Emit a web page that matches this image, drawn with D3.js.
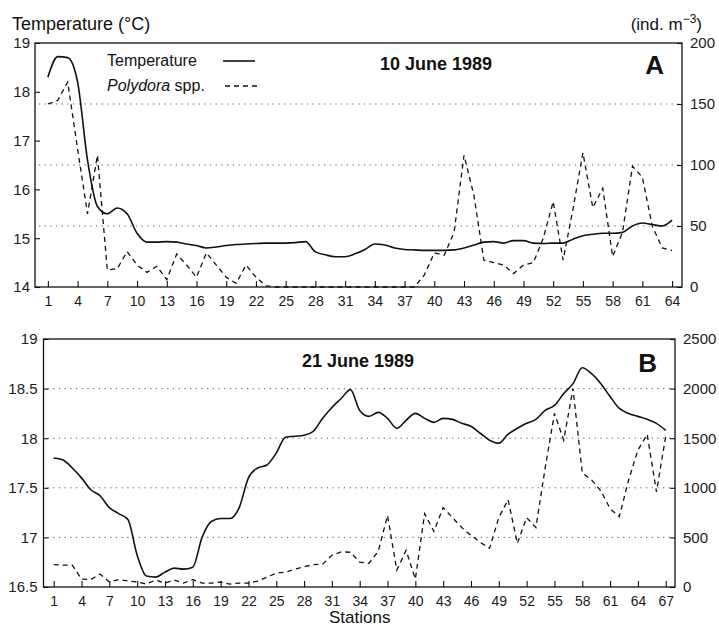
<!DOCTYPE html>
<html>
<head>
<meta charset="utf-8">
<script src="https://cdn.jsdelivr.net/npm/d3@7"></script>
<style>
  html, body { margin: 0; padding: 0; background: #fff; }
  svg { display: block; font-family: "Liberation Sans", Arial, sans-serif; }
</style>
</head>
<body>
<svg id="chart" width="719" height="626"></svg>
<script>
// ---------- DATA ----------
const stationsA = d3.range(1, 65);
const tempA = [18.3,18.72,18.7,18.2,16.6,15.65,15.5,15.62,15.5,15.1,14.92,14.92,14.93,14.92,14.88,14.85,14.8,14.82,14.85,14.87,14.88,14.89,14.9,14.9,14.9,14.91,14.93,14.72,14.66,14.62,14.62,14.68,14.77,14.88,14.86,14.8,14.77,14.76,14.75,14.75,14.75,14.76,14.8,14.86,14.92,14.93,14.9,14.95,14.95,14.9,14.89,14.9,14.9,14.98,15.05,15.08,15.1,15.1,15.12,15.25,15.31,15.28,15.25,15.37];
const polyA = [150,153,168,113,60,108,14,15,29,18,12,17,6,27,18,8,28,18,8,3,18,8,1,0,0,0,0,0,0,0,0,0,0,0,0,0,0,0,10,28,26,45,108,75,22,20,18,11,18,20,40,70,22,64,110,65,81,25,45,99,90,50,32,30];

const stationsB = d3.range(1, 68);
const tempB = [17.8,17.78,17.7,17.6,17.48,17.42,17.3,17.24,17.18,16.82,16.61,16.6,16.65,16.69,16.68,16.7,17.0,17.16,17.19,17.19,17.3,17.6,17.7,17.73,17.85,18.01,18.02,18.03,18.07,18.2,18.31,18.4,18.49,18.28,18.22,18.26,18.2,18.1,18.18,18.25,18.2,18.16,18.2,18.19,18.15,18.12,18.05,17.98,17.95,18.04,18.1,18.15,18.19,18.28,18.33,18.45,18.55,18.71,18.65,18.55,18.42,18.3,18.25,18.22,18.19,18.15,18.08];
const polyB = [225,220,220,80,75,130,50,75,60,50,30,70,40,70,40,75,40,40,50,30,40,40,60,100,140,150,180,205,225,230,320,355,350,250,240,360,720,170,370,80,740,560,800,700,600,520,450,390,700,880,440,700,600,1200,1750,1480,2000,1150,1080,970,790,709,1080,1380,1540,960,1520];

const xLabelsA = d3.range(1, 65, 3);
const xLabelsB = d3.range(1, 68, 3);
const leftTicksA = [14, 15, 16, 17, 18, 19];
const rightTicksA = [0, 50, 100, 150, 200];
const gridA = [50, 100, 150];
const leftTicksB = [16.5, 17, 17.5, 18, 18.5, 19];
const rightTicksB = [0, 500, 1000, 1500, 2000, 2500];
const gridB = [500, 1000, 1500, 2000];

// ---------- DRAW ----------
const svg = d3.select("#chart");

function panel(cfg) {
  const g = svg.append("g");
  const x = d3.scaleLinear().domain(cfg.xDom).range([cfg.left, cfg.right]);
  const yL = d3.scaleLinear().domain(cfg.yLDom).range([cfg.bottom, cfg.top]);
  const yR = d3.scaleLinear().domain(cfg.yRDom).range([cfg.bottom, cfg.top]);

  // dotted grid lines
  g.selectAll("line.grid").data(cfg.grid).join("line")
    .attr("class", "grid")
    .attr("x1", cfg.left + 4).attr("x2", cfg.right)
    .attr("y1", d => yR(d)).attr("y2", d => yR(d))
    .attr("stroke", "#333").attr("stroke-width", 1)
    .attr("stroke-dasharray", "1.2,4.5").attr("opacity", 0.8);

  const fmt = cfg.fmtL;
  // bottom axis: minor ticks each station
  const xb = g.append("g").attr("transform", `translate(0,${cfg.bottom})`);
  xb.call(d3.axisBottom(x).tickValues(cfg.stations).tickSize(-3).tickFormat(""));
  xb.call(d3.axisBottom(x).tickValues(cfg.xLabels).tickSize(-6).tickPadding(9).tickFormat(d3.format("d")));
  xb.selectAll(".domain").remove();

  // left axis
  const yl = g.append("g").attr("transform", `translate(${cfg.left},0)`);
  yl.call(d3.axisLeft(yL).tickValues(cfg.leftMinor).tickSize(-3).tickFormat(""));
  yl.call(d3.axisLeft(yL).tickValues(cfg.leftTicks).tickSize(-5).tickPadding(cfg.padL).tickFormat(fmt));
  yl.selectAll(".domain").remove();

  // right axis
  const yr = g.append("g").attr("transform", `translate(${cfg.right},0)`);
  yr.call(d3.axisRight(yR).tickValues(cfg.rightMinor).tickSize(-3).tickFormat(""));
  yr.call(d3.axisRight(yR).tickValues(cfg.rightTicks).tickSize(-5).tickPadding(8).tickFormat(d3.format("d")));
  yr.selectAll(".domain").remove();

  svg.selectAll("g.tick text").attr("font-family", "Liberation Sans, Arial, sans-serif").attr("fill", "#1a1a1a");
  xb.selectAll("text").attr("font-size", 14);
  yl.selectAll("text").attr("font-size", 15);
  yr.selectAll("text").attr("font-size", 15);
  g.selectAll(".tick line").attr("stroke", "#111").attr("stroke-width", 1.1);

  // frame
  g.append("rect")
    .attr("x", cfg.left).attr("y", cfg.top)
    .attr("width", cfg.right - cfg.left).attr("height", cfg.bottom - cfg.top)
    .attr("fill", "none").attr("stroke", "#111").attr("stroke-width", 1.3);

  // polydora dashed
  g.append("path").datum(cfg.stations.map((s, i) => [s, cfg.poly[i]]))
    .attr("d", d3.line().x(d => x(d[0])).y(d => yR(d[1])))
    .attr("fill", "none").attr("stroke", "#111").attr("stroke-width", 1.3)
    .attr("stroke-dasharray", "5,4");

  // temperature solid
  g.append("path").datum(cfg.stations.map((s, i) => [s, cfg.temp[i]]))
    .attr("d", d3.line().curve(d3.curveMonotoneX).x(d => x(d[0])).y(d => yL(d[1])))
    .attr("fill", "none").attr("stroke", "#111").attr("stroke-width", 1.6);

  // date title & letter
  g.append("text").attr("x", cfg.titleX).attr("y", cfg.titleY)
    .attr("font-size", 18).attr("font-weight", "bold").attr("fill", "#111")
    .text(cfg.title);
  g.append("text").attr("x", cfg.right - 18).attr("y", cfg.letterY)
    .attr("text-anchor", "end")
    .attr("font-size", 26).attr("font-weight", "bold").attr("fill", "#111")
    .text(cfg.letter);
  return { g, x, yL, yR };
}

const A = panel({
  left: 35, right: 682, top: 43, bottom: 287,
  xDom: [-0.3, 65], yLDom: [14, 19], yRDom: [0, 200],
  stations: stationsA, temp: tempA, poly: polyA,
  xLabels: xLabelsA, leftTicks: leftTicksA, leftMinor: d3.range(14.5, 19, 1),
  rightTicks: rightTicksA, rightMinor: [25, 75, 125, 175],
  grid: gridA, fmtL: d3.format("d"), padL: 5,
  title: "10 June 1989", titleX: 380, titleY: 70, letter: "A", letterY: 74
});

const B = panel({
  left: 43.5, right: 675, top: 339, bottom: 587,
  xDom: [-0.1, 68], yLDom: [16.5, 19], yRDom: [0, 2500],
  stations: stationsB, temp: tempB, poly: polyB,
  xLabels: xLabelsB, leftTicks: leftTicksB, leftMinor: [16.75, 17.25, 17.75, 18.25, 18.75],
  rightTicks: rightTicksB, rightMinor: [250, 750, 1250, 1750, 2250],
  grid: gridB, fmtL: d => (d % 1 === 0 ? d3.format("d")(d) : String(d)), padL: 6,
  title: "21 June 1989", titleX: 302, titleY: 367, letter: "B", letterY: 372
});

// legend (panel A)
const lg = svg.append("g").attr("font-size", 16).attr("fill", "#111");
lg.append("text").attr("x", 107).attr("y", 66).text("Temperature");
lg.append("line").attr("x1", 223).attr("x2", 255).attr("y1", 61).attr("y2", 61)
  .attr("stroke", "#111").attr("stroke-width", 1.6);
const t2 = lg.append("text").attr("x", 107).attr("y", 91);
t2.append("tspan").attr("font-style", "italic").text("Polydora");
t2.append("tspan").text(" spp.");
lg.append("line").attr("x1", 225).attr("x2", 257).attr("y1", 86).attr("y2", 86)
  .attr("stroke", "#111").attr("stroke-width", 1.3).attr("stroke-dasharray", "5,4");

// axis titles
svg.append("text").attr("x", 12).attr("y", 30).attr("font-size", 18).attr("fill", "#111")
  .text("Temperature (°C)");
const unit = svg.append("text").attr("x", 702).attr("y", 30).attr("text-anchor", "end")
  .attr("font-size", 17).attr("fill", "#111");
unit.append("tspan").text("(ind. m");
unit.append("tspan").attr("font-size", 12).attr("dy", -7).text("−3");
unit.append("tspan").attr("dy", 7).text(")");

svg.append("text").attr("x", B.x(34)).attr("y", 623).attr("text-anchor", "middle")
  .attr("font-size", 17).attr("fill", "#111").text("Stations");
</script>
</body>
</html>
